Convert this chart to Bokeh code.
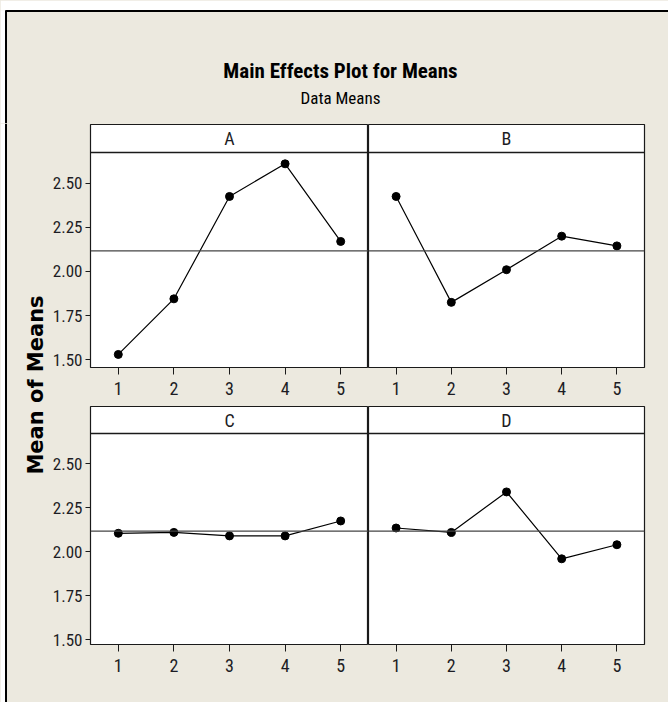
import numpy as np
from bokeh.plotting import figure
from bokeh.models import Range1d, FixedTicker, NumeralTickFormatter, Span, Label
from bokeh.layouts import row, column
from bokeh.core.properties import value
from bokeh.embed import file_html
from bokeh.resources import INLINE

# Factor levels and the mean response at each level
levels = [1, 2, 3, 4, 5]
factors = ["A", "B", "C", "D"]
mean_a = [1.53, 1.845, 2.425, 2.61, 2.17]
mean_b = [2.425, 1.825, 2.01, 2.20, 2.145]
mean_c = [2.105, 2.11, 2.09, 2.09, 2.175]
mean_d = [2.135, 2.11, 2.34, 1.96, 2.04]
y_ticks = [1.50, 1.75, 2.00, 2.25, 2.50]

title_text = "Main Effects Plot for Means"
subtitle_text = "Data Means"
y_label_text = "Mean of Means"

grand_mean = float(np.mean(mean_a + mean_b + mean_c + mean_d))

BEIGE = "#ECE9DF"
INK = "#1c1c24"
LINE = "#1a1a1a"
COND = "Roboto Condensed"

W, H = 668, 702
TOP_H = 123
LEFT_W = 46


def panel(name, means, y_lo, y_hi, header_px, plot_px, bottom_px, with_y_axis, right_px):
    frame_w = 278 if with_y_axis else 276
    left_px = 44 if with_y_axis else 0
    # the header strip sits inside the frame, above the data area
    y_end = y_hi + header_px * (y_hi - y_lo) / plot_px
    p = figure(width=left_px + frame_w + right_px,
               height=1 + header_px + plot_px + bottom_px,
               x_range=Range1d(0.5, 5.5), y_range=Range1d(y_lo, y_end),
               output_backend="svg", toolbar_location=None,
               y_axis_location="left" if with_y_axis else None,
               min_border_left=left_px, min_border_right=right_px,
               min_border_top=1, min_border_bottom=bottom_px,
               background_fill_color="white", border_fill_color=BEIGE,
               outline_line_color=LINE, outline_line_width=1.2)
    p.grid.visible = False

    xa = p.xaxis[0]
    xa.ticker = FixedTicker(ticks=levels)
    xa.axis_line_color = None
    xa.major_tick_in = 0
    xa.major_tick_out = 7
    xa.major_tick_line_color = LINE
    xa.minor_tick_line_color = None
    xa.major_label_standoff = 7
    xa.major_label_text_font = COND
    xa.major_label_text_font_size = "18px"
    xa.major_label_text_color = INK

    if with_y_axis:
        ya = p.yaxis[0]
        ya.ticker = FixedTicker(ticks=y_ticks)
        ya.formatter = NumeralTickFormatter(format="0.00")
        ya.axis_line_color = None
        ya.major_tick_in = 0
        ya.major_tick_out = 5
        ya.major_tick_line_color = LINE
        ya.minor_tick_line_color = None
        ya.major_label_standoff = 3
        ya.major_label_text_font = COND
        ya.major_label_text_font_size = "17px"
        ya.major_label_text_color = INK

    # header divider and factor name
    p.add_layout(Span(location=y_hi, dimension="width",
                      line_color=LINE, line_width=1.3))
    p.add_layout(Label(x=3.0, y=(y_hi + y_end) / 2, text=name,
                       text_align="center", text_baseline="middle",
                       text_font=COND, text_font_size="18px", text_color=INK))

    # grand mean reference line
    p.add_layout(Span(location=grand_mean, dimension="width",
                      line_color="#444444", line_width=1.2))

    p.line(levels, means, line_color="black", line_width=1.2)
    p.scatter(levels, means, size=8, marker="circle",
              fill_color="black", line_color="black")
    return p


# top band: title and subtitle
top = figure(width=W, height=TOP_H, x_range=Range1d(0, W), y_range=Range1d(TOP_H, 0),
             output_backend="svg", toolbar_location=None,
             x_axis_location=None, y_axis_location=None,
             min_border=0, background_fill_color=BEIGE, border_fill_color=BEIGE,
             outline_line_color=None)
top.grid.visible = False
top.quad(left=[0], right=[W], top=[0], bottom=[10], fill_color="white", line_color=None)
top.quad(left=[0], right=[5], top=[10], bottom=[TOP_H], fill_color="white", line_color=None)
top.segment(x0=[5], y0=[10.5], x1=[W], y1=[10.5], line_color="black", line_width=2)
top.segment(x0=[5.5], y0=[10], x1=[5.5], y1=[TOP_H], line_color="black", line_width=2)
top.text(x=[340], y=[70], text=[title_text], text_align="center",
         text_baseline="alphabetic", text_font=value(COND), text_font_style="bold",
         text_font_size="21px", text_color="black")
top.text(x=[340], y=[97], text=[subtitle_text], text_align="center",
         text_baseline="alphabetic", text_font=value(COND),
         text_font_size="17px", text_color="black")

# left band: frame edge and the shared y-axis title
left_h = H - TOP_H
left = figure(width=LEFT_W, height=left_h, x_range=Range1d(0, LEFT_W),
              y_range=Range1d(left_h, 0),
              output_backend="svg", toolbar_location=None,
              x_axis_location=None, y_axis_location=None,
              min_border=0, background_fill_color=BEIGE, border_fill_color=BEIGE,
              outline_line_color=None)
left.grid.visible = False
left.quad(left=[0], right=[5], top=[0], bottom=[left_h], fill_color="white", line_color=None)
left.segment(x0=[5.5], y0=[0], x1=[5.5], y1=[left_h], line_color="black", line_width=2)
left.text(x=[35], y=[384.5 - TOP_H], text=[y_label_text], angle=np.pi / 2,
          text_align="center", text_baseline="middle",
          text_font=value("DejaVu Sans"), text_font_style="bold",
          text_font_size="21px", text_color="black")

pa = panel(factors[0], mean_a, 1.456, 2.674, 28, 215, 38, True, 0)
pb = panel(factors[1], mean_b, 1.456, 2.674, 28, 215, 38, False, 24)
pc = panel(factors[2], mean_c, 1.473, 2.672, 27, 211, 58, True, 0)
pd = panel(factors[3], mean_d, 1.473, 2.672, 27, 211, 58, False, 24)

layout = column(top, row(left, column(row(pa, pb), row(pc, pd))))
layout.styles = {"background-color": BEIGE}

open("out.html", "w").write(file_html(layout, INLINE))
